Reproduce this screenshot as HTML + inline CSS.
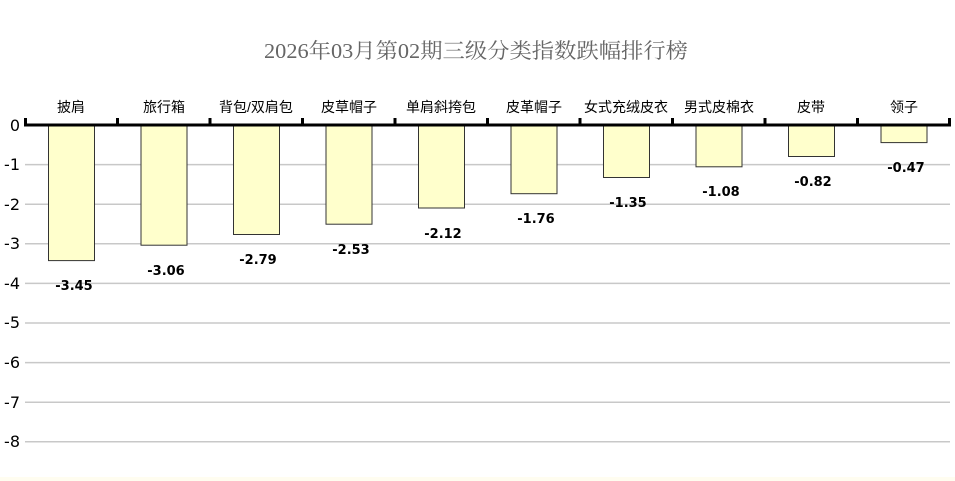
<!DOCTYPE html>
<html><head><meta charset="utf-8"><style>body{margin:0;background:#fff}svg{display:block}</style></head><body>
<svg width="955" height="481" xmlns="http://www.w3.org/2000/svg" font-family="'Liberation Sans','DejaVu Sans','Noto Sans CJK SC',sans-serif">
<rect x="0" y="0" width="955" height="481" fill="#fff"/>
<rect x="0" y="477" width="955" height="4" fill="#fffdf0"/>
<text x="264" y="58" textLength="424" lengthAdjust="spacingAndGlyphs" font-size="21" fill="#666" font-family="'Liberation Serif','Noto Serif CJK SC',serif">2026年03月第02期三级分类指数跌幅排行榜</text>
<g stroke="#c8c8c8" stroke-width="1.5">
<line x1="25" x2="950" y1="164.6" y2="164.6"/><line x1="25" x2="950" y1="204.2" y2="204.2"/>
<line x1="25" x2="950" y1="243.8" y2="243.8"/><line x1="25" x2="950" y1="283.4" y2="283.4"/>
<line x1="25" x2="950" y1="323" y2="323"/><line x1="25" x2="950" y1="362.6" y2="362.6"/>
<line x1="25" x2="950" y1="402.2" y2="402.2"/><line x1="25" x2="950" y1="441.8" y2="441.8"/>
</g>
<g font-size="16" fill="#000" text-anchor="end" font-family="'DejaVu Sans',sans-serif">
<text x="20" y="131">0</text><text x="20" y="170">-1</text><text x="20" y="210">-2</text><text x="20" y="249">-3</text>
<text x="20" y="289">-4</text><text x="20" y="328">-5</text><text x="20" y="368">-6</text><text x="20" y="408">-7</text><text x="20" y="447">-8</text>
</g>
<g fill="#ffffcc" stroke="#333" stroke-width="1">
<rect x="48.5" y="125" width="46" height="135.6"/>
<rect x="141" y="125" width="46" height="120.2"/>
<rect x="233.5" y="125" width="46" height="109.5"/>
<rect x="326" y="125" width="46" height="99.2"/>
<rect x="418.5" y="125" width="46" height="83"/>
<rect x="511" y="125" width="46" height="68.7"/>
<rect x="603.5" y="125" width="46" height="52.5"/>
<rect x="696" y="125" width="46" height="41.8"/>
<rect x="788.5" y="125" width="46" height="31.5"/>
<rect x="881" y="125" width="46" height="17.6"/>
</g>
<line x1="24" x2="951" y1="125" y2="125" stroke="#000" stroke-width="3"/>
<g stroke="#000" stroke-width="3">
<line x1="25.5" x2="25.5" y1="118" y2="126"/><line x1="117.5" x2="117.5" y1="118" y2="126"/>
<line x1="210" x2="210" y1="118" y2="126"/><line x1="302.5" x2="302.5" y1="118" y2="126"/>
<line x1="395" x2="395" y1="118" y2="126"/><line x1="487.5" x2="487.5" y1="118" y2="126"/>
<line x1="580" x2="580" y1="118" y2="126"/><line x1="672.5" x2="672.5" y1="118" y2="126"/>
<line x1="765" x2="765" y1="118" y2="126"/><line x1="857.5" x2="857.5" y1="118" y2="126"/>
<line x1="949.5" x2="949.5" y1="118" y2="126"/>
</g>
<g font-size="14" fill="#000" text-anchor="middle">
<text x="71" y="112">披肩</text><text x="164" y="112">旅行箱</text><text x="256" y="112">背包/双肩包</text>
<text x="349" y="112">皮草帽子</text><text x="441" y="112">单肩斜挎包</text><text x="534" y="112">皮革帽子</text>
<text x="626" y="112">女式充绒皮衣</text><text x="719" y="112">男式皮棉衣</text><text x="811" y="112">皮带</text><text x="904" y="112">领子</text>
</g>
<g font-size="13" font-weight="bold" fill="#000" text-anchor="middle" font-family="'DejaVu Sans',sans-serif">
<text x="74" y="290">-3.45</text><text x="166" y="275">-3.06</text><text x="258" y="264">-2.79</text>
<text x="351" y="254">-2.53</text><text x="443" y="238">-2.12</text><text x="536" y="223">-1.76</text>
<text x="628" y="207">-1.35</text><text x="721" y="196">-1.08</text><text x="813" y="186">-0.82</text><text x="906" y="172">-0.47</text>
</g>
</svg>
</body></html>
